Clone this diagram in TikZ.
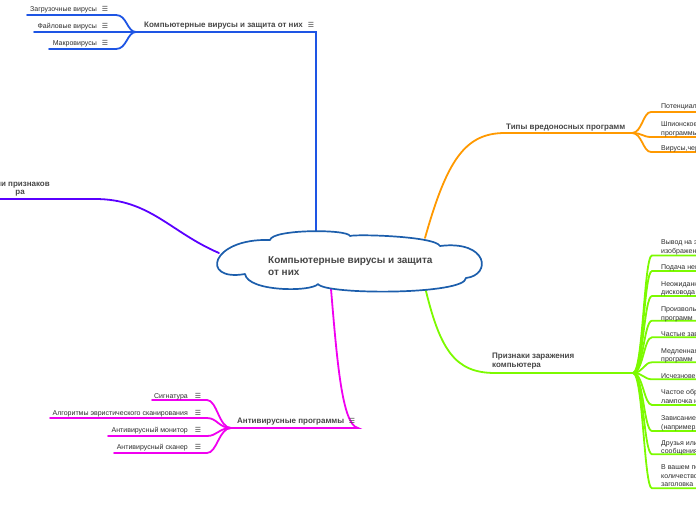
\documentclass[tikz,border=0pt]{standalone}
\usepackage{fontspec}
\setmainfont{Liberation Sans}
\newfontfamily\symfont{DejaVu Sans}
\definecolor{cblue}{RGB}{30,85,228}
\definecolor{ccloud}{RGB}{28,94,172}
\definecolor{corange}{RGB}{255,153,0}
\definecolor{cgreen}{RGB}{124,250,0}
\definecolor{cmag}{RGB}{240,0,240}
\definecolor{cpurple}{RGB}{90,0,255}
\definecolor{ctext}{RGB}{45,45,45}
\definecolor{cmain}{RGB}{70,70,70}
\begin{document}
\begin{tikzpicture}[x=1pt,y=-1pt,
  lbl/.style={font=\fontsize{7}{8.3}\selectfont, text=ctext, inner sep=0pt, text height=5pt, text depth=1.5pt, yshift=-2pt},
  mlbl/.style={font=\fontsize{7}{8.3}\selectfont, text=ctext, inner sep=0pt, align=left, anchor=north west, yshift=-2pt},
  mainlbl/.style={font=\bfseries\fontsize{8}{9.2}\selectfont, text=cmain, inner sep=0pt, text height=5.6pt, text depth=1.6pt, yshift=-1pt},
  menu/.style={font=\symfont\fontsize{7}{8}\selectfont, text=cmain, inner sep=0pt, yshift=-1pt},
  br/.style={line width=1.8pt, line cap=round},
  bl/.style={br, draw=cblue},
  og/.style={br, draw=corange},
  gr/.style={br, draw=cgreen},
  mg/.style={br, draw=cmag},
  pp/.style={br, draw=cpurple}
]
\useasboundingbox (0,0) rectangle (696,520);

% ---------- anchor points on the cloud ----------
\coordinate (cTop) at (316,232);
\coordinate (cOr) at (425,238);
\coordinate (cGr) at (425,287);
\coordinate (cMg) at (331,289);
\coordinate (cPp) at (219,253);

% ---------- blue branch ----------
\coordinate (bHub) at (136,32);
\draw[bl, line cap=butt] (cTop) |- (bHub);
\coordinate (b1e) at (116,15);  \coordinate (b1s) at (27,15);
\coordinate (b2s) at (34,32);
\coordinate (b3e) at (116,49);  \coordinate (b3s) at (49,49);
\draw[bl] (b1s) -- (b1e) .. controls +(11,0) and +(-9,0) .. (bHub);
\draw[bl] (b2s) -- (bHub);
\draw[bl] (b3s) -- (b3e) .. controls +(11,0) and +(-9,0) .. (bHub);
\node[mainlbl, anchor=west] (bmain) at (144,24) {Компьютерные вирусы и защита от них};
\node[menu] (bmainm) at (311,24) {☰};
\node[lbl, anchor=east] (b1) at (97,8) {Загрузочные вирусы};
\node[menu] (b1m) at (105,8) {☰};
\node[lbl, anchor=east] (b2) at (97,25) {Файловые вирусы};
\node[menu] (b2m) at (105,25) {☰};
\node[lbl, anchor=east] (b3) at (97,42) {Макровирусы};
\node[menu] (b3m) at (105,42) {☰};

% ---------- orange branch ----------
\coordinate (oStart) at (505,133);
\coordinate (oHub) at (632,133);
\draw[og] (cOr) .. controls (447,160) and (465,133) .. (oStart) -- (oHub);
\foreach \yy in {112,137,152}{
  \draw[og] (oHub) .. controls +(10,0) and +(-8,0) .. (651,\yy) -- (705,\yy);
}
\node[mainlbl, anchor=west] (omain) at (506,126) {Типы вредоносных программ};
\node[lbl, anchor=west] (o1) at (661,105) {Потенциально нежелательные программы};
\node[mlbl] (o2) at (661,119.5) {Шпионское программное обеспечение и рекламные\\программы};
\node[lbl, anchor=west] (o3) at (661,147) {Вирусы,черви,трояны};

% ---------- green branch ----------
\coordinate (gStart) at (495,373);
\coordinate (gHub) at (633,373);
\draw[gr] (cGr) .. controls (440,350) and (455,373) .. (gStart) -- (gHub);
\foreach \yy in {255.5,271,296,320.7,337.3,362.3,379.3,405,431,454.3,488.3}{
  \draw[gr] (gHub) .. controls +(10,0) and +(-8,0) .. (652,\yy) -- (705,\yy);
}
\node[mainlbl, anchor=north west, align=left, text height=, text depth=] (gmain) at (492,352) {Признаки заражения\\компьютера};
\node[mlbl] (g1) at (661,237.3) {Вывод на экран непредусмотренных сообщений или\\изображений};
\node[lbl, anchor=west] (g2) at (661,266) {Подача непредусмотренных звуковых сигналов};
\node[mlbl] (g3) at (661,279.5) {Неожиданное открытие и закрытие лотка CD-ROM-\\дисковода};
\node[mlbl] (g4) at (661,304.5) {Произвольный запуск на компьютере каких-либо\\программ};
\node[lbl, anchor=west] (g5) at (661,332.7) {Частые зависания и сбои в работе компьютера};
\node[mlbl] (g6) at (661,345.8) {Медленная работа компьютера при запуске\\программ};
\node[lbl, anchor=west] (g7) at (661,374.3) {Исчезновение или изменение файлов и папок};
\node[mlbl] (g8) at (661,387.5) {Частое обращение к жесткому диску (часто мигает\\лампочка на системном блоке)};
\node[mlbl] (g9) at (661,413.5) {Зависание или неожиданное поведение браузера\\(например, окно программы невозможно закрыть)};
\node[mlbl] (g10) at (661,438.5) {Друзья или знакомые говорят вам о\\сообщениях от вас, которые вы не отправляли};
\node[mlbl] (g11) at (661,462.5) {В вашем почтовом ящике находится большое\\количество сообщений без обратного адреса и\\заголовка};

% ---------- magenta branch ----------
\coordinate (mHub) at (231,428);
\coordinate (mEnd) at (358,428);
\draw[mg] (cMg) .. controls (337,360) and (342,425) .. (mEnd) -- (mHub);
\coordinate (m1) at (207,400); \coordinate (m1s) at (152,400);
\coordinate (m2) at (207,418); \coordinate (m2s) at (50,418);
\coordinate (m3) at (207,436); \coordinate (m3s) at (108,436);
\coordinate (m4) at (207,453); \coordinate (m4s) at (114,453);
\foreach \a/\b in {m1/m1s,m2/m2s,m3/m3s,m4/m4s}{
  \draw[mg] (mHub) .. controls +(-12,0) and +(10,0) .. (\a) -- (\b);
}
\node[mainlbl, anchor=west] (mmain) at (237,420) {Антивирусные программы};
\node[menu] (mmainm) at (352,420) {☰};
\node[lbl, anchor=east] (ma) at (188,395) {Сигнатура};
\node[menu] (mam) at (198,395) {☰};
\node[lbl, anchor=east] (mb) at (188,412) {Алгоритмы эвристического сканирования};
\node[menu] (mbm) at (198,412) {☰};
\node[lbl, anchor=east] (mc) at (188,429) {Антивирусный монитор};
\node[menu] (mcm) at (198,429) {☰};
\node[lbl, anchor=east] (md) at (188,446) {Антивирусный сканер};
\node[menu] (mdm) at (198,446) {☰};

% ---------- purple branch ----------
\coordinate (pEnd) at (-5,199);
\draw[pp] (cPp) .. controls (170,232) and (150,199) .. (95,199) -- (pEnd);
\node[mainlbl, anchor=east] (p1) at (50,183) {ии признаков};
\node[mainlbl, anchor=east] (p2) at (25,191.5) {ра};

% ---------- central cloud ----------
\draw[draw=ccloud, line width=1.7pt, fill=white, line join=round]
  (245,274) .. controls (200,282) and (210,238) .. (270,240)
  .. controls (272,229) and (348,229) .. (350,236)
  .. controls (355,234) and (435,236) .. (440,246)
  .. controls (488,240) and (492,275) .. (466,278)
  .. controls (465,295) and (325,295) .. (318,284)
  .. controls (312,292) and (248,292) .. (245,274) -- cycle;
\node[font=\bfseries\fontsize{10}{12}\selectfont, text=cmain, inner sep=0pt, align=left, anchor=north west] (root) at (268,256) {Компьютерные вирусы и защита\\от них};
\end{tikzpicture}
\end{document}
